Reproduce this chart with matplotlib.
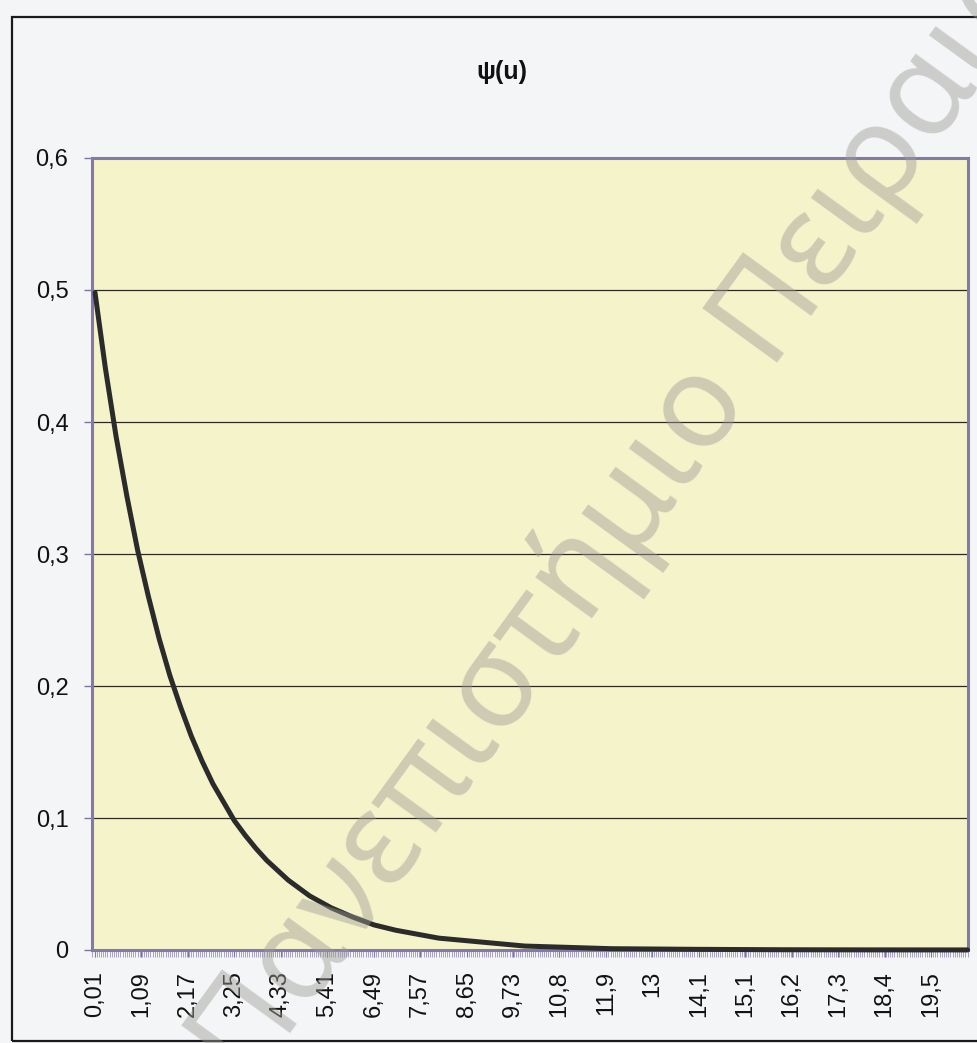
import matplotlib
matplotlib.use("Agg")
import matplotlib.pyplot as plt
from matplotlib.patches import Rectangle
from matplotlib.ticker import FixedLocator, MultipleLocator, FuncFormatter

# ruin probability psi(u), sampled along the surplus axis
u_values = [0.01, 0.25, 0.5, 0.75, 1.0, 1.25, 1.5, 1.75, 2.0, 2.25, 2.5, 2.75,
            3.0, 3.25, 3.5, 3.75, 4.0, 4.5, 5.0, 5.5, 6.0, 6.5, 7.0, 7.5, 8.0,
            9.0, 10.0, 11.0, 12.0, 14.0, 16.0, 18.0, 20.3]
psi_values = [0.498, 0.441, 0.389, 0.344, 0.303, 0.268, 0.236, 0.208, 0.184,
              0.162, 0.143, 0.126, 0.112, 0.098, 0.087, 0.077, 0.068, 0.053,
              0.041, 0.032, 0.025, 0.019, 0.015, 0.012, 0.009, 0.006, 0.003,
              0.002, 0.001, 0.0005, 0.0002, 0.0001, 0.00005]

# category labels shown every 108 points
tick_u = [0.01, 1.09, 2.17, 3.25, 4.33, 5.41, 6.49, 7.57, 8.65, 9.73, 10.81,
          11.89, 12.97, 14.05, 15.13, 16.21, 17.29, 18.37, 19.45]
tick_labels = ["0,01", "1,09", "2,17", "3,25", "4,33", "5,41", "6,49", "7,57",
               "8,65", "9,73", "10,8", "11,9", "13", "14,1", "15,1", "16,2",
               "17,3", "18,4", "19,5"]

plt.rcParams['font.family'] = ['Liberation Sans', 'DejaVu Sans']

W, H = 977, 1043
fig = plt.figure(figsize=(W / 100, H / 100), dpi=100)
fig.patch.set_facecolor('#f4f5f7')

# chart frame
fig.patches.append(Rectangle((12 / W, 1 - 1041 / H), 1.0, (1041 - 17) / H,
                             transform=fig.transFigure, fill=False,
                             edgecolor='#1a1a1a', linewidth=1.6, zorder=0))

ax = fig.add_axes([92 / W, 1 - 950 / H, (968 - 92) / W, (950 - 158) / H])
ax.set_facecolor('#f5f3c9')

ax.plot(u_values, psi_values, color='#2b2b2b', linewidth=3.6,
        solid_capstyle='round', clip_on=False, zorder=3)

ax.set_xlim(-0.06, 20.31)
ax.set_ylim(0, 0.6)

ax.yaxis.set_major_locator(MultipleLocator(0.1))
ax.yaxis.set_major_formatter(FuncFormatter(
    lambda v, _: "0" if abs(v) < 1e-9 else f"{v:.1f}".replace(".", ",")))
ax.grid(axis='y', color='#2e2a22', linewidth=0.9)

ax.xaxis.set_major_locator(FixedLocator(tick_u))
ax.set_xticklabels(tick_labels, rotation=90)
ax.xaxis.set_minor_locator(MultipleLocator(0.05))

ax.tick_params(axis='y', length=6, width=1, color='#7d72a4',
               labelsize=17, pad=11, labelcolor='#111111')
ax.tick_params(axis='x', which='major', length=5, width=0.8, color='#7d72a4',
               labelsize=17, pad=10, labelcolor='#111111')
ax.tick_params(axis='x', which='minor', length=5, width=0.5, color='#8a80ac')

for side in ['left', 'right', 'top', 'bottom']:
    ax.spines[side].set_color('#8579ac')
    ax.spines[side].set_linewidth(2.2)

fig.text(502 / W, 1 - 72 / H, "ψ(u)", ha='center', va='center',
         fontsize=18, fontweight='bold', color='#111111')

# watermark across the page
fig.text(250 / W, 1 - 1090 / H, "Πανεπιστήμιο Πειραιώς",
         rotation=54, rotation_mode='anchor', ha='left', va='baseline',
         fontsize=93, fontweight='bold', color='#9c9c96', alpha=0.45,
         family=['Noto Sans', 'DejaVu Sans'], zorder=10)

fig.savefig("out.png", dpi=100, facecolor=fig.get_facecolor())
